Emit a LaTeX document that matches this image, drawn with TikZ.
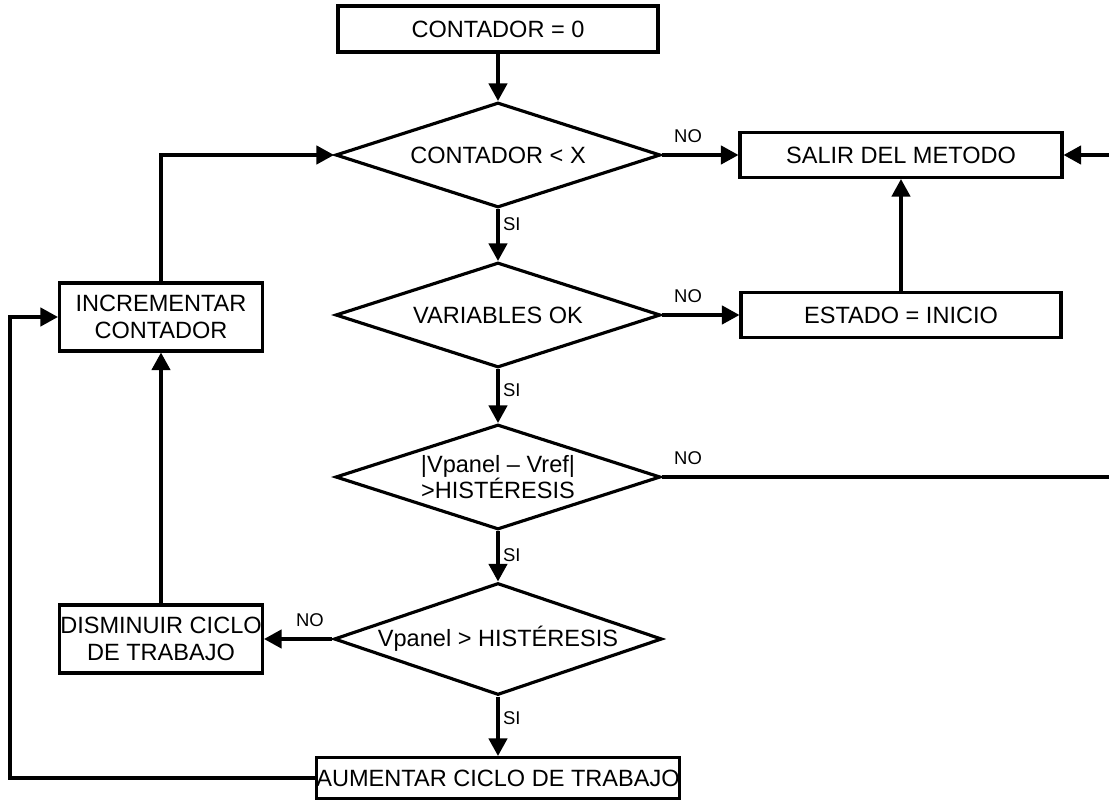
\documentclass[tikz,border=0pt]{standalone}
\usepackage{fontspec}
\setmainfont{Liberation Sans}
\usetikzlibrary{shapes.geometric,arrows.meta}

\begin{document}
\begin{tikzpicture}[x=0.02cm,y=-0.02cm,line width=1.8pt,>={Triangle[length=10pt,width=10.5pt]},
  caja/.style={draw,rectangle,align=center,inner sep=0pt,font=\fontsize{13.4}{15}\selectfont},
  decision/.style={draw,diamond,aspect=3,inner sep=-3pt,align=center,minimum width=6.5cm,minimum height=2.1cm,font=\fontsize{13.4}{15}\selectfont},
  etiq/.style={font=\fontsize{10.5}{12}\selectfont,inner sep=2pt},
  etiqsi/.style={etiq,right},
  etiqno/.style={etiq,pos=0,above right,xshift=4pt,yshift=4pt}]

  \useasboundingbox (0,0) rectangle (1109,800);

% main column
  \node[caja,minimum width=6.4cm,minimum height=0.92cm] (cero) at (498,29) {CONTADOR = 0};
  \node[decision] (cond1) at (498,155) {CONTADOR < X};
  \node[decision] (cond2) at (498,315) {VARIABLES OK};
  \node[decision] (cond3) at (498,477) {|Vpanel -- Vref|\\>HISTÉRESIS};
  \node[decision,minimum width=6.56cm,minimum height=2.24cm] (cond4) at (498,639) {Vpanel > HISTÉRESIS};
  \node[caja,minimum width=7.2cm,minimum height=0.82cm] (aumentar) at (498,778) {AUMENTAR CICLO DE TRABAJO};

% right side
  \node[caja,minimum width=6.44cm,minimum height=0.9cm] (salir) at (901,155) {SALIR DEL METODO};
  \node[caja,minimum width=6.4cm,minimum height=0.9cm] (estado) at (901,315) {ESTADO = INICIO};

% left side
  \node[caja,minimum width=4.06cm,minimum height=1.36cm] (incrementar) at (161,317) {INCREMENTAR\\CONTADOR};
  \node[caja,minimum width=4.06cm,minimum height=1.36cm] (disminuir) at (161,639) {DISMINUIR CICLO\\DE TRABAJO};

  \coordinate (derecha) at (1120,477);
  \coordinate (izq) at (10,778);

% SI branches
  \draw[->] (cero) -- (cond1);
  \draw[->] (cond1) -- node[etiqsi,pos=0.3] {SI} (cond2);
  \draw[->] (cond2) -- node[etiqsi,pos=0.4] {SI} (cond3);
  \draw[->] (cond3) -- node[etiqsi,pos=0.48] {SI} (cond4);
  \draw[->] (cond4) -- node[etiqsi,pos=0.37] {SI} (aumentar);

% NO branches
  \draw[->] (cond1.east) -- node[etiqno] {NO} (salir.west);
  \draw[->] (cond2.east) -- node[etiqno] {NO} (estado.west);
  \draw[->] (cond3.east) -- node[etiqno] {NO} (derecha) |- (salir.east);
  \draw[->] (cond4.west) -- node[etiq,pos=0,above left,xshift=-2pt,yshift=4pt] {NO} (disminuir.east);
  \draw[->] (estado) -- (salir);

% loop back
  \draw[->] (disminuir) -- (incrementar);
  \draw[->] (incrementar.north) |- (cond1.west);
  \draw[->] (aumentar.west) -- (izq) |- (incrementar.west);

\end{tikzpicture}
\end{document}
